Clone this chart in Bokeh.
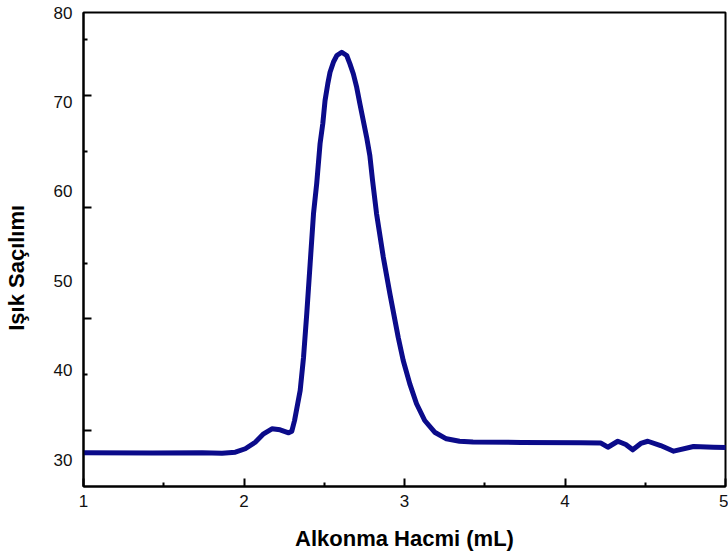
from bokeh.plotting import figure
from bokeh.models import FixedTicker, Range1d
from bokeh.embed import file_html
from bokeh.resources import INLINE

# Elution volume (mL) and light scattering signal
volume = [1.000, 1.429, 1.739, 1.863, 1.946, 2.008, 2.070, 2.122, 2.174, 2.225,
          2.278, 2.298, 2.315, 2.329, 2.350, 2.371, 2.391, 2.412, 2.433, 2.453,
          2.474, 2.491, 2.505, 2.522, 2.536, 2.557, 2.578, 2.609, 2.640, 2.660,
          2.681, 2.702, 2.722, 2.743, 2.764, 2.784, 2.801, 2.826, 2.868, 2.909,
          2.961, 2.992, 3.033, 3.075, 3.126, 3.188, 3.261, 3.343, 3.427, 3.727,
          4.099, 4.224, 4.267, 4.329, 4.379, 4.422, 4.472, 4.516, 4.596, 4.677,
          4.801, 4.925, 5.000]
scatter = [30.77, 30.75, 30.77, 30.72, 30.84, 31.22, 31.95, 32.89, 33.45, 33.34,
           33.00, 33.18, 34.38, 35.72, 37.73, 41.46, 46.31, 51.90, 57.49, 60.88,
           65.35, 67.59, 70.16, 72.03, 73.32, 74.44, 75.19, 75.56, 75.19, 74.26,
           73.15, 71.65, 69.79, 67.92, 66.06, 64.01, 61.22, 57.49, 52.64, 48.55,
           43.66, 41.09, 38.48, 36.25, 34.38, 33.07, 32.33, 32.06, 31.98, 31.92,
           31.89, 31.86, 31.39, 32.06, 31.70, 31.10, 31.81, 32.06, 31.58, 30.95,
           31.47, 31.39, 31.36]

x_ticks = [1, 2, 3, 4, 5]
x_minor = [1.5, 2.5, 3.5, 4.5]
y_tick_labels = [30, 40, 50, 60, 70, 80]
y_major_marks = [33.26, 45.78, 58.20, 70.72]
y_minor_marks = [39.52, 51.93, 64.46, 76.98]

X_START, X_END = 1, 5
Y_START, Y_END = 27.0, 80.0
FONT = "Liberation Sans"
Y_TITLE = "Işık Saçılımı"
# trailing no-break spaces push the centred title slightly down, as in the reference
Y_TITLE_PAD = "\u00a0" * 6

p = figure(width=728, height=558, output_backend="svg", toolbar_location=None,
           x_range=Range1d(X_START, X_END), y_range=Range1d(Y_START, Y_END),
           min_border_left=81, min_border_right=3, min_border_top=12,
           min_border_bottom=72)
p.background_fill_color = "white"
p.border_fill_color = "white"
p.grid.visible = False
p.outline_line_color = "black"
p.outline_line_width = 2

p.line(volume, scatter, line_color="#0b0b8a", line_width=5,
       line_join="round", line_cap="round")

# inward tick marks of the left axis
p.ray(x=[X_START] * len(y_major_marks), y=y_major_marks, length=8,
      length_units="screen", angle=0, line_color="black", line_width=2)
p.ray(x=[X_START] * len(y_minor_marks), y=y_minor_marks, length=4,
      length_units="screen", angle=0, line_color="black", line_width=2)

xa = p.xaxis[0]
xa.ticker = FixedTicker(ticks=x_ticks, minor_ticks=x_minor)
xa.major_tick_in = 8
xa.major_tick_out = 0
xa.minor_tick_in = 4
xa.minor_tick_out = 0
xa.axis_line_width = 2
xa.major_tick_line_width = 2
xa.minor_tick_line_width = 2
xa.major_label_standoff = 8
xa.major_label_text_font = FONT
xa.major_label_text_font_size = "17px"
xa.major_label_text_color = "#111111"
xa.axis_label = "Alkonma Hacmi (mL)"
xa.axis_label_text_font = FONT
xa.axis_label_text_font_style = "bold"
xa.axis_label_text_font_size = "22px"
xa.axis_label_text_color = "black"
xa.axis_label_standoff = 16

ya = p.yaxis[0]
ya.ticker = FixedTicker(ticks=y_tick_labels, minor_ticks=[])
ya.major_tick_in = 0
ya.major_tick_out = 0
ya.minor_tick_in = 0
ya.minor_tick_out = 0
ya.axis_line_width = 2
ya.major_label_standoff = 11
ya.major_label_text_font = FONT
ya.major_label_text_font_size = "17px"
ya.major_label_text_color = "#111111"
ya.axis_label = Y_TITLE + Y_TITLE_PAD
ya.axis_label_text_font = FONT
ya.axis_label_text_font_style = "bold"
ya.axis_label_text_font_size = "22px"
ya.axis_label_text_color = "black"
ya.axis_label_standoff = 22

open("out.html", "w").write(file_html(p, INLINE))
